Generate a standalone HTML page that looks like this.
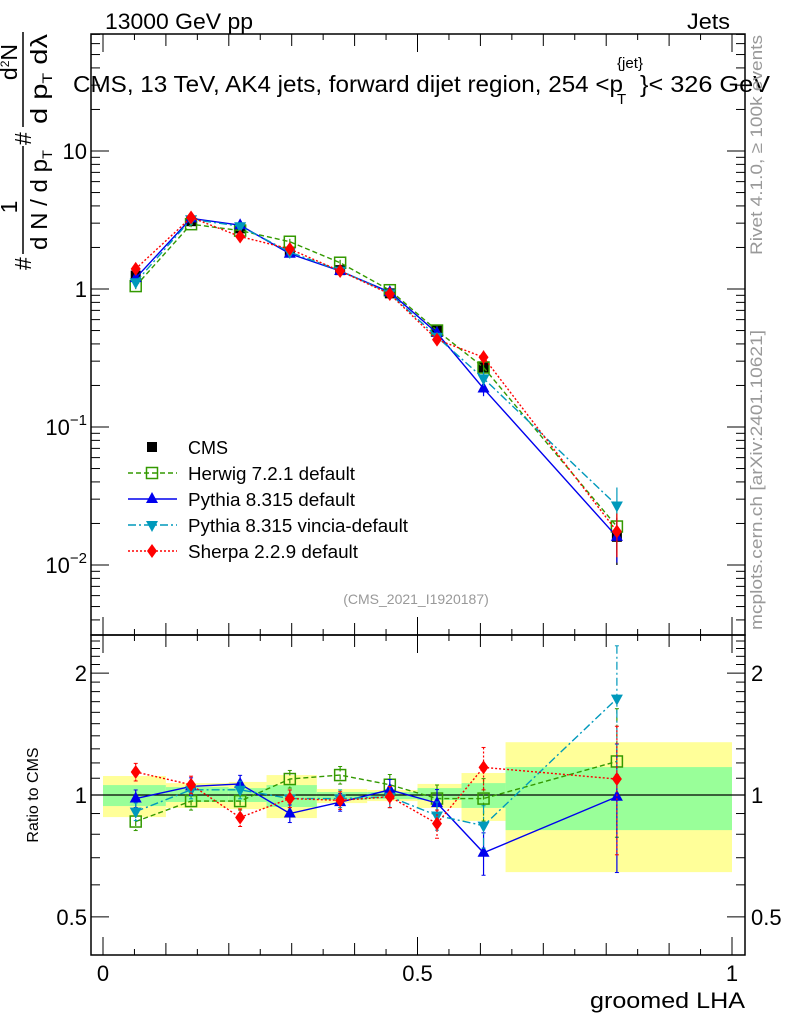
<!DOCTYPE html>
<html><head><meta charset="utf-8"><style>
html,body{margin:0;padding:0;background:#fff;}
svg{display:block;font-family:"Liberation Sans",sans-serif;}
</style></head><body>
<svg id="c" width="786" height="1024" viewBox="0 0 786 1024" xmlns="http://www.w3.org/2000/svg">
<g id="bands"></g>
<g id="marks"></g>
<g id="axes"></g>
<g>
<text x="105" y="29" font-size="22" textLength="148" lengthAdjust="spacingAndGlyphs">13000 GeV pp</text>
<text x="687" y="29" font-size="22" textLength="43" lengthAdjust="spacingAndGlyphs">Jets</text>
<g>
<text x="73" y="92" font-size="23" textLength="550" lengthAdjust="spacingAndGlyphs">CMS, 13 TeV, AK4 jets, forward dijet region, 254 &lt;p</text>
<text x="617" y="68" font-size="15" textLength="26" lengthAdjust="spacingAndGlyphs">{jet}</text>
<text x="617" y="104" font-size="15">T</text>
<text x="640" y="92" font-size="23" textLength="130" lengthAdjust="spacingAndGlyphs">}&lt; 326 GeV</text>
</g>
<text x="416" y="604" font-size="14" fill="#999" text-anchor="middle">(CMS_2021_I1920187)</text>
<text transform="translate(762,255) rotate(-90)" font-size="17" fill="#999" textLength="220" lengthAdjust="spacingAndGlyphs">Rivet 4.1.0, ≥ 100k events</text>
<text transform="translate(762,630) rotate(-90)" font-size="17" fill="#999" textLength="300" lengthAdjust="spacingAndGlyphs">mcplots.cern.ch [arXiv:2401.10621]</text>
<text x="590" y="1008" font-size="22" textLength="155" lengthAdjust="spacingAndGlyphs">groomed LHA</text>
<text transform="translate(38,795) rotate(-90)" font-size="16" text-anchor="middle">Ratio to CMS</text>
<g transform="translate(0,272) rotate(-90)" font-size="23">
<text x="2" y="31">#</text>
<text x="65" y="17" text-anchor="middle">1</text>
<line x1="18" y1="23" x2="126" y2="23" stroke="#000" stroke-width="1.5"/>
<text x="72" y="47" text-anchor="middle" textLength="100" lengthAdjust="spacingAndGlyphs">d N / d p<tspan font-size="14" dy="5">T</tspan></text>
<text x="127" y="31">#</text>
<text x="210" y="17" text-anchor="middle">d<tspan font-size="12" dy="-8">2</tspan><tspan dy="8">N</tspan></text>
<line x1="145" y1="23" x2="240" y2="23" stroke="#000" stroke-width="1.5"/>
<text x="193" y="47" text-anchor="middle" textLength="90" lengthAdjust="spacingAndGlyphs">d p<tspan font-size="14" dy="5">T</tspan><tspan dy="-5"> d</tspan>λ</text>
</g>
</g>
<g id="legend"></g>
</svg>
<script>
const xVals=[0.052,0.14,0.218,0.297,0.377,0.456,0.531,0.605,0.817];
const binEdges=[0,0.1,0.2,0.26,0.34,0.42,0.5,0.57,0.64,1.0];
const cmsVals=[1.25,3.1,2.75,1.85,1.37,0.93,0.5,0.27,0.016];
const cmsErr=[0.08,0.15,0.15,0.1,0.06,0.05,0.04,0.03,0.006];
const herwigVals=[1.05,2.95,2.65,2.2,1.55,0.98,0.5,0.27,0.019];
const pythiaVals=[1.2,3.25,2.9,1.8,1.35,0.95,0.48,0.19,0.016];
const vinciaVals=[1.12,3.2,2.85,1.85,1.36,0.93,0.45,0.225,0.027];
const sherpaVals=[1.4,3.3,2.4,1.95,1.35,0.92,0.43,0.32,0.0175];
const herwigRatio=[0.86,0.966,0.966,1.095,1.12,1.06,0.98,0.98,1.21];
const pythiaRatio=[0.98,1.05,1.065,0.9,0.96,1.03,0.955,0.72,0.99];
const vinciaRatio=[0.91,1.03,1.03,0.98,0.98,0.99,0.89,0.84,1.73];
const sherpaRatio=[1.14,1.06,0.88,0.98,0.97,0.99,0.85,1.17,1.095];
const ratioErr=[0.05,0.05,0.05,0.05,0.05,0.06,0.08,0.12,0.35];
const yellowUp=[1.114,1.07,1.077,1.12,1.035,1.029,1.065,1.133,1.35];
const yellowDn=[0.882,0.929,0.923,0.877,0.955,0.966,0.929,0.863,0.645];
const greenUp=[1.058,1.046,1.04,1.058,1.017,1.017,1.04,1.07,1.172];
const greenDn=[0.939,0.961,0.961,0.934,0.972,0.977,0.972,0.929,0.819];
const yTicks=[10,1,0.1,0.01];
const rTicks=[2,1,0.5];
const xTicks=[0,0.5,1];

const NS="http://www.w3.org/2000/svg";
const L=91,R=745,T=34,MID=635,B=955;
const X=v=>103+629*v;
const Y=v=>151-138*(Math.log10(v)-1);
const RY=v=>795-405*Math.log10(v);
function mk(tag,attrs,parent){const e=document.createElementNS(NS,tag);for(const k in attrs)e.setAttribute(k,attrs[k]);parent.appendChild(e);return e;}
const bands=document.getElementById('bands'),marks=document.getElementById('marks'),axes=document.getElementById('axes'),legend=document.getElementById('legend');

for(let i=0;i<binEdges.length-1;i++){
  const x0=X(binEdges[i]),x1=X(binEdges[i+1]);
  const y=mk('rect',{x:x0,y:RY(yellowUp[i]),width:x1-x0,height:RY(yellowDn[i])-RY(yellowUp[i]),fill:'#ffff99'},bands);
  
  
  const g=mk('rect',{x:x0,y:RY(greenUp[i]),width:x1-x0,height:RY(greenDn[i])-RY(greenUp[i]),fill:'#99ff99'},bands);
  
  
}
mk('line',{x1:L,y1:RY(1),x2:R,y2:RY(1),stroke:'#000','stroke-width':1.3},bands);

function marker(type,x,y,color,parent){
  let e;
  if(type==='sq') e=mk('rect',{x:x-5,y:y-5,width:10,height:10,fill:'#000'},parent);
  else if(type==='osq') e=mk('rect',{x:x-5.5,y:y-5.5,width:11,height:11,fill:'none',stroke:color,'stroke-width':1.5},parent);
  else if(type==='up') e=mk('polygon',{points:`${x},${y-7} ${x-6},${y+4} ${x+6},${y+4}`,fill:color},parent);
  else if(type==='dn') e=mk('polygon',{points:`${x},${y+7} ${x-6},${y-4} ${x+6},${y-4}`,fill:color},parent);
  else e=mk('polygon',{points:`${x},${y-7} ${x-5},${y} ${x},${y+7} ${x+5},${y}`,fill:color},parent);
  return e;
}
const series=[
 {name:'herwig',vals:herwigVals,ratio:herwigRatio,color:'#339900',dash:'5,3',m:'osq',label:'Herwig 7.2.1 default'},
 {name:'pythia',vals:pythiaVals,ratio:pythiaRatio,color:'#0000ee',dash:'',m:'up',label:'Pythia 8.315 default'},
 {name:'vincia',vals:vinciaVals,ratio:vinciaRatio,color:'#0099bb',dash:'8,3,2,3',m:'dn',label:'Pythia 8.315 vincia-default'},
 {name:'sherpa',vals:sherpaVals,ratio:sherpaRatio,color:'#ff0000',dash:'2,2',m:'dia',label:'Sherpa 2.2.9 default'}
];
cmsVals.forEach((v,i)=>{
  mk('line',{x1:X(xVals[i]),x2:X(xVals[i]),y1:Y(v+cmsErr[i]),y2:Y(Math.max(v-cmsErr[i],1e-4)),stroke:'#000','stroke-width':1.3},marks);
  const m=marker('sq',X(xVals[i]),Y(v),'#000',marks);
  
  
});
series.forEach(s=>{
  const p=mk('polyline',{points:s.vals.map((v,i)=>X(xVals[i])+','+Y(v)).join(' '),fill:'none',stroke:s.color,'stroke-width':1.4,'stroke-dasharray':s.dash},marks);
  
  
  const pr=mk('polyline',{points:s.ratio.map((v,i)=>X(xVals[i])+','+RY(v)).join(' '),fill:'none',stroke:s.color,'stroke-width':1.4,'stroke-dasharray':s.dash},marks);
  
  
  s.ratio.forEach((v,i)=>{
    const x=X(xVals[i]),e=ratioErr[i]*v;
    mk('line',{x1:x,x2:x,y1:RY(v+e),y2:RY(v-e),stroke:s.color,'stroke-width':1.2,'stroke-dasharray':s.dash},marks);
    mk('line',{x1:x-2,x2:x+2,y1:RY(v+e),y2:RY(v+e),stroke:s.color},marks);
    mk('line',{x1:x-2,x2:x+2,y1:RY(v-e),y2:RY(v-e),stroke:s.color},marks);
    const m=marker(s.m,x,RY(v),s.color,marks);
    
    
  });
  s.vals.forEach((v,i)=>{
    const x=X(xVals[i]),e=ratioErr[i]*v;
    mk('line',{x1:x,x2:x,y1:Y(v+e),y2:Y(v-e),stroke:s.color,'stroke-width':1.2},marks);
    const m=marker(s.m,x,Y(v),s.color,marks);
    
    
  });
});
const ly=[447,473,499,525,551];
const legendLens=[40,167,167,220,170];
marker('sq',152,ly[0],'#000',legend);
const t0=mk('text',{x:188,y:ly[0]+7,'font-size':18,textLength:legendLens[0],lengthAdjust:'spacingAndGlyphs'},legend);
t0.textContent='CMS';


series.forEach((s,k)=>{
  const y=ly[k+1];
  mk('line',{x1:128,x2:177,y1:y,y2:y,stroke:s.color,'stroke-width':1.4,'stroke-dasharray':s.dash},legend);
  marker(s.m,152,y,s.color,legend);
  const t=mk('text',{x:188,y:y+7,'font-size':18,textLength:legendLens[k+1],lengthAdjust:'spacingAndGlyphs'},legend);
  t.textContent=s.label;
  
  
});
mk('rect',{x:L,y:T,width:R-L,height:MID-T,fill:'none',stroke:'#000','stroke-width':1.5},axes);
mk('rect',{x:L,y:MID,width:R-L,height:B-MID,fill:'none',stroke:'#000','stroke-width':1.5},axes);
for(let k=0;k<=20;k++){
  const v=k*0.05,x=X(v),len=(k%10===0)?18:(k%2===0?12:6);
  [[T,1],[MID,-1],[MID,1],[B,-1]].forEach(([y0,d])=>mk('line',{x1:x,x2:x,y1:y0,y2:y0+d*len,stroke:'#000'},axes));
}
xTicks.forEach(v=>{const t=mk('text',{x:X(v),y:981,'font-size':22,'text-anchor':'middle'},axes);t.textContent=String(v);});
for(let d=-3;d<=1;d++){for(let m=1;m<10;m++){
  const v=m*Math.pow(10,d),y=Y(v);if(y<T||y>MID)continue;
  const len=m===1?18:9;
  mk('line',{x1:L,x2:L+len,y1:y,y2:y,stroke:'#000'},axes);
  mk('line',{x1:R,x2:R-len,y1:y,y2:y,stroke:'#000'},axes);
}}
yTicks.forEach(v=>{
  const t=mk('text',{x:87,y:Y(v)+8,'font-size':22,'text-anchor':'end'},axes);
  if(v>=1)t.textContent=String(v);
  else{t.textContent='10';const s=mk('tspan',{dy:-10,'font-size':15},t);s.textContent='−'+Math.round(-Math.log10(v));}
});
for(let k=4;k<=25;k++){
  const v=k/10,y=RY(v);if(y<MID||y>B)continue;
  const len=(v===0.5||v===1||v===2)?18:9;
  mk('line',{x1:L,x2:L+len,y1:y,y2:y,stroke:'#000'},axes);
  mk('line',{x1:R,x2:R-len,y1:y,y2:y,stroke:'#000'},axes);
}
rTicks.forEach(v=>{
  const a=mk('text',{x:87,y:RY(v)+8,'font-size':22,'text-anchor':'end'},axes);a.textContent=String(v);
  const b=mk('text',{x:751,y:RY(v)+8,'font-size':22},axes);b.textContent=String(v);
});
</script>
</body></html>
